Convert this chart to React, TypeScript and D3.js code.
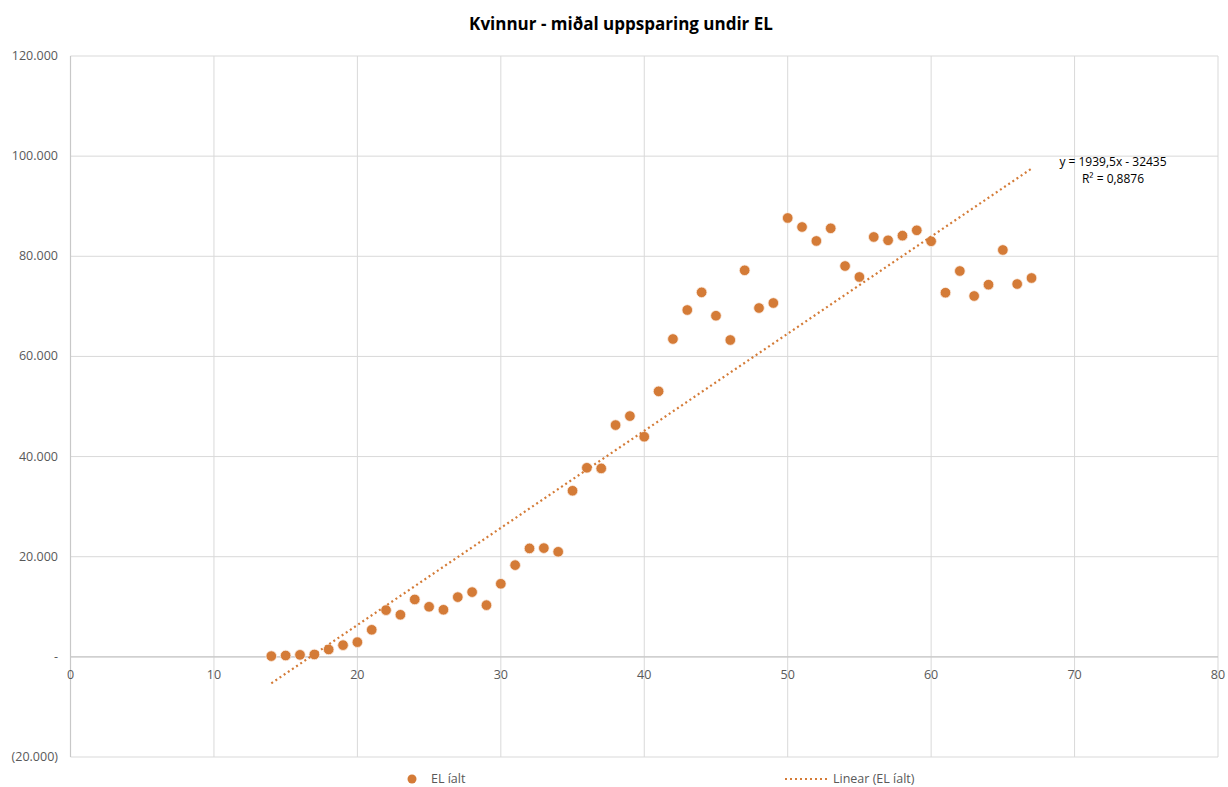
import React from "react";
import * as d3 from "d3";

const ages = [14,15,16,17,18,19,20,21,22,23,24,25,26,27,28,29,30,31,32,33,34,35,36,37,38,39,40,41,42,43,44,45,46,47,48,49,50,51,52,53,54,55,56,57,58,59,60,61,62,63,64,65,66,67];
const savings = [150,270,400,480,1480,2340,2940,5400,9330,8400,11470,10000,9400,11930,12930,10330,14590,18320,21660,21720,20980,33170,37760,37640,46290,48090,43960,53030,63480,69270,72800,68130,63280,77200,69670,70670,87650,85850,83060,85590,78060,75870,83860,83190,84120,85190,83000,72730,77060,72070,74330,81260,74460,75660];
const xTicks = [0,10,20,30,40,50,60,70,80];
const yTicks = [-20000,0,20000,40000,60000,80000,100000,120000];
const slope = 1939.5;
const intercept = -32435;
const title = "Kvinnur - miðal uppsparing undir EL";
const seriesName = "EL íalt";
const trendName = "Linear (EL íalt)";
const eqText = "y = 1939,5x - 32435";
const r2Text = "R² = 0,8876";

const W = 1228, H = 787;
const color = "#d47b37";
const font = "'Open Sans', 'Noto Sans', sans-serif";

function fmtY(v: number) {
  if (v === 0) return "-";
  const s = d3.format(",")(Math.abs(v)).replace(/,/g, ".");
  return v < 0 ? `(${s})` : s;
}

export default function App() {
  const x = d3.scaleLinear().domain([0, 80]).range([70.5, 1218]);
  const y = d3.scaleLinear().domain([-20000, 120000]).range([757, 56]);
  const xmin = d3.min(ages) as number, xmax = d3.max(ages) as number;
  const trend = d3.line<number>().x(d => x(d)).y(d => y(slope * d + intercept))([xmin, xmax]) as string;
  return (
    <svg width={W} height={H} style={{ position: "absolute", left: 0, top: 0, background: "#fff" }} fontFamily={font}>
      <text x={621} y={30} textAnchor="middle" fontSize={17} fontWeight="bold" fill="#000">{title}</text>
      {xTicks.map(t => (
        <line key={"gx" + t} x1={x(t)} x2={x(t)} y1={y(120000)} y2={y(-20000)} stroke="#d9d9d9" strokeWidth={1} />
      ))}
      {yTicks.map(t => (
        <line key={"gy" + t} x1={x(0)} x2={x(80)} y1={y(t)} y2={y(t)} stroke="#d9d9d9" strokeWidth={1} />
      ))}
      <line x1={x(0)} x2={x(80)} y1={y(0)} y2={y(0)} stroke="#c8c8c8" strokeWidth={1.2} />
      <line x1={x(0)} x2={x(0)} y1={y(120000)} y2={y(-20000)} stroke="#c8c8c8" strokeWidth={1.2} />
      {yTicks.map(t => (
        <text key={"ly" + t} x={58} y={y(t) + 4} textAnchor="end" fontSize={12.5} fill="#595959">{fmtY(t)}</text>
      ))}
      {xTicks.map(t => (
        <text key={"lx" + t} x={x(t)} y={y(0) + 22} textAnchor="middle" fontSize={12.5} fill="#595959">{t}</text>
      ))}
      {ages.map((a, i) => (
        <circle key={"p" + i} cx={x(a)} cy={y(savings[i])} r={5.3} fill={color} stroke="#fbeee4" strokeWidth={0.8} />
      ))}
      <path d={trend} fill="none" stroke={color} strokeWidth={2.2} strokeDasharray="2 3" />
      <text x={1113} y={166} textAnchor="middle" fontSize={12} fill="#000">{eqText}</text>
      <text x={1113} y={183} textAnchor="middle" fontSize={12} fill="#000">{r2Text}</text>
      <circle cx={412} cy={779} r={4.5} fill={color} />
      <text x={431} y={783} fontSize={12.5} fill="#595959">{seriesName}</text>
      <line x1={785} x2={829} y1={779} y2={779} stroke={color} strokeWidth={2.2} strokeDasharray="2 3" />
      <text x={833} y={783} fontSize={12.5} fill="#595959">{trendName}</text>
    </svg>
  );
}
